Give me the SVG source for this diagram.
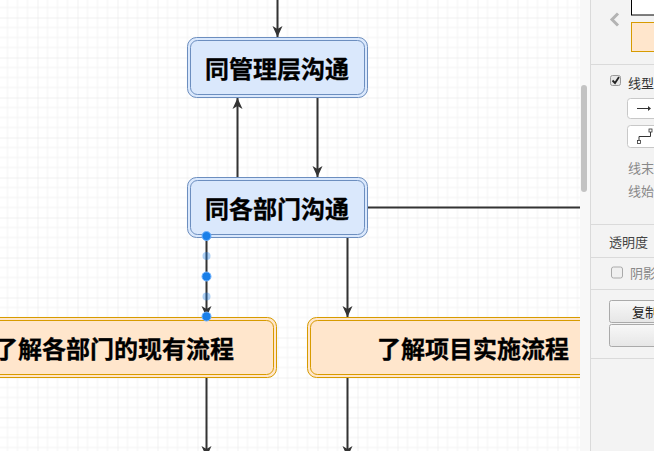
<svg xmlns="http://www.w3.org/2000/svg" width="654" height="451" viewBox="0 0 654 451">
<style>
.lbl{font-family:"Noto Sans CJK SC","Noto Sans",sans-serif;font-size:24px;font-weight:bold;fill:#000;stroke:#000;stroke-width:0.3;dominant-baseline:central}
.edge{fill:none;stroke:#333;stroke-width:2}
.bo{stroke:#6c8ebf;stroke-width:1}
.oo{stroke:#d79b00;stroke-width:1}
.ui{font-family:"Noto Sans CJK SC","Noto Sans",sans-serif;font-size:13px;dominant-baseline:central}
.sep{stroke:#dadada;stroke-width:1}
.hd{fill:#1a7fe8;stroke:#6fb2ff;stroke-width:1}
.hv{fill:#1a7fe8;opacity:0.35}
</style>
<defs>
<pattern id="grid" x="37.5" y="17.5" width="40" height="40" patternUnits="userSpaceOnUse">
<rect width="40" height="40" fill="#fff"/>
<path d="M10 0V40M20 0V40M30 0V40M0 10H40M0 20H40M0 30H40" stroke="#f4f4f4" stroke-width="1"/>
<path d="M0 0V40M0 0H40" stroke="#e4e4e4" stroke-width="1"/>
</pattern>
<marker id="arr" markerUnits="userSpaceOnUse" markerWidth="12" markerHeight="12" refX="11" refY="5" orient="auto" viewBox="0 0 12 10">
<path d="M0,0 L11,5 L0,10 L3,5 Z" fill="#333"/>
</marker>
<linearGradient id="btn" x1="0" y1="0" x2="0" y2="1">
<stop offset="0" stop-color="#f8f8f8"/>
<stop offset="1" stop-color="#e6e6e6"/>
</linearGradient>
</defs>
<rect width="654" height="451" fill="url(#grid)"/>

<g id="connectors">
<path class="edge" d="M277.5 0V37" marker-end="url(#arr)"/>
<path class="edge" d="M237.5 177.5V98" marker-end="url(#arr)"/>
<path class="edge" d="M317.5 97.5V177" marker-end="url(#arr)"/>
<path class="edge" d="M367.5 207.5H592"/>
<path class="edge" d="M347.5 237.5V317" marker-end="url(#arr)"/>
<path class="edge" d="M206.5 237.5V317" marker-end="url(#arr)"/>
<path class="edge" d="M206.5 377V457" marker-end="url(#arr)"/>
<path class="edge" d="M347.5 377V457" marker-end="url(#arr)"/>
</g>

<g id="node-mgmt">
<rect x="187.5" y="37.5" width="180" height="60" rx="9" fill="#dae8fc" class="bo"/>
<rect x="190.5" y="40.5" width="174" height="54" rx="7" fill="none" class="bo"/>
<text class="lbl" x="277" y="67.5" text-anchor="middle">同管理层沟通</text>
</g>

<g id="node-dept">
<rect x="187.5" y="177.5" width="180" height="60" rx="9" fill="#dae8fc" class="bo"/>
<rect x="190.5" y="180.5" width="174" height="54" rx="7" fill="none" class="bo"/>
<text class="lbl" x="277" y="207.5" text-anchor="middle">同各部门沟通</text>
</g>

<g id="node-process">
<rect x="-12.5" y="317.5" width="289" height="60" rx="9" fill="#ffe6cc" class="oo"/>
<rect x="-9.5" y="320.5" width="283" height="54" rx="7" fill="none" class="oo"/>
<text class="lbl" x="234" y="347.5" text-anchor="end">了解各部门的现有流程</text>
</g>

<g id="node-project">
<rect x="307.5" y="317.5" width="300" height="60" rx="9" fill="#ffe6cc" class="oo"/>
<rect x="310.5" y="320.5" width="294" height="54" rx="7" fill="none" class="oo"/>
<text class="lbl" x="377" y="347.5">了解项目实施流程</text>
</g>

<g id="selection">
<circle class="hd" cx="206.5" cy="236" r="4.5"/>
<circle class="hv" cx="206.5" cy="256" r="4"/>
<circle class="hd" cx="206.5" cy="276.5" r="4.5"/>
<circle class="hv" cx="206.5" cy="296.5" r="4"/>
<circle class="hd" cx="206.5" cy="316.5" r="4.5"/>
</g>

<g id="format-panel">
<rect x="580" y="0" width="10" height="451" fill="#f8f8f8"/>
<rect x="581" y="85" width="6" height="107" rx="3" fill="#c3c3c3"/>
<rect x="590" y="0" width="64" height="451" fill="#f3f3f3"/>
<path class="sep" d="M590.5 0V451"/>
<polyline points="618,13.5 612,19.5 618,25.5" fill="none" stroke="#b3b3b3" stroke-width="3"/>
<rect x="631.5" y="-1" width="30" height="16" fill="#fff" stroke="#000"/>
<rect x="631.5" y="22.5" width="30" height="29" fill="#ffe6cc" stroke="#d79b00"/>
<path class="sep" d="M590 64.5H654"/>
<rect x="610.5" y="75.5" width="10" height="10" rx="2" fill="#e6e6e6" stroke="#999"/>
<path d="M612.5 80.5l2.5 2.5l4-6" fill="none" stroke="#222" stroke-width="1.8"/>
<text class="ui" x="628" y="82" fill="#333">线型</text>
<rect x="627.5" y="98.5" width="40" height="20" rx="3" fill="#fff" stroke="#c8c8c8"/>
<path d="M637 108.5H649" stroke="#333" stroke-width="1"/>
<path d="M648 106L651 108.5L648 111Z" fill="#333"/>
<rect x="627.5" y="125.5" width="40" height="22" rx="3" fill="#fff" stroke="#c8c8c8"/>
<path d="M639 140.5V136.5H650.5V131.5" fill="none" stroke="#333" stroke-width="1"/>
<rect x="637.5" y="140.5" width="3" height="3" fill="#fff" stroke="#333" stroke-width="0.8"/>
<rect x="649" y="129" width="3" height="3" fill="#fff" stroke="#333" stroke-width="0.8"/>
<text class="ui" x="628" y="167" fill="#888">线末端</text>
<text class="ui" x="628" y="190" fill="#888">线始端</text>
<path class="sep" d="M590 224.5H654"/>
<text class="ui" x="609" y="241" fill="#444">透明度</text>
<path class="sep" d="M590 257.5H654"/>
<rect x="611.5" y="267" width="11" height="11" rx="2" fill="#f0f0f0" stroke="#aaa"/>
<text class="ui" x="630" y="272.5" fill="#888">阴影</text>
<path class="sep" d="M590 289.5H654"/>
<rect x="609.5" y="300.5" width="70" height="22" rx="2" fill="url(#btn)" stroke="#aaa"/>
<text class="ui" x="632" y="311.5" fill="#222">复制</text>
<rect x="609.5" y="324.5" width="70" height="22" rx="2" fill="url(#btn)" stroke="#aaa"/>
<path class="sep" d="M590 358.5H654"/>
</g>
</svg>
